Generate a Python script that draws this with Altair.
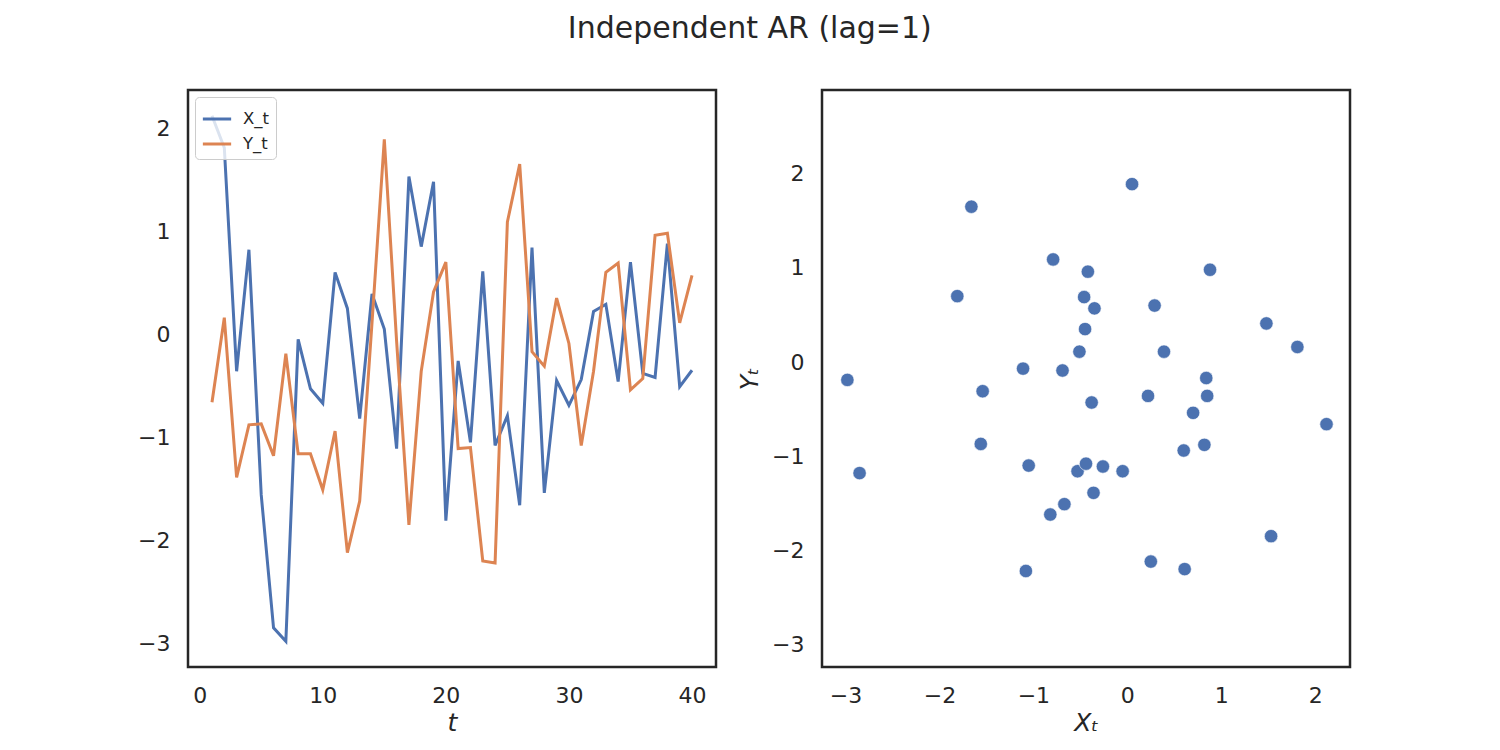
import altair as alt
import pandas as pd

# ---- data ----
t_vals = list(range(1, 41))
x_vals = [2.12, 1.81, -0.36, 0.82, -1.56, -2.85, -2.98, -0.05, -0.53, -0.67,
          0.60, 0.25, -0.82, 0.39, 0.05, -1.11, 1.53, 0.85, 1.48, -1.81,
          -0.26, -1.05, 0.61, -1.08, -0.79, -1.66, 0.84, -1.54, -0.45, -0.69,
          -0.44, 0.22, 0.29, -0.46, 0.70, -0.38, -0.42, 0.88, -0.51, -0.35]
y_vals = [-0.66, 0.16, -1.39, -0.88, -0.87, -1.18, -0.19, -1.16, -1.16, -1.51,
          -0.94, -2.12, -1.62, 0.11, 1.89, -0.07, -1.85, -0.36, 0.41, 0.70,
          -1.11, -1.10, -2.20, -2.22, 1.09, 1.65, -0.17, -0.31, 0.35, -0.09,
          -1.08, -0.36, 0.60, 0.69, -0.54, -0.43, 0.96, 0.98, 0.11, 0.57]
series_names = ["X_t", "Y_t"]
series_colors = ["#4C72B0", "#DD8452"]
t_ticks = [0, 10, 20, 30, 40]
v_ticks = [-3, -2, -1, 0, 1, 2]
sx_ticks = [-3, -2, -1, 0, 1, 2]
sy_ticks = [-3, -2, -1, 0, 1, 2]

FONT = "DejaVu Sans"
INK = "#262626"

long_df = pd.DataFrame({
    "t": t_vals + t_vals,
    "value": x_vals + y_vals,
    "series": [series_names[0]] * len(t_vals) + [series_names[1]] * len(t_vals),
})
scatter_df = pd.DataFrame({"x": x_vals, "y": y_vals})

line = alt.Chart(long_df).mark_line(strokeWidth=3, clip=True).encode(
    x=alt.X("t:Q",
            scale=alt.Scale(domain=[-0.95, 41.95], nice=False, zero=False),
            axis=alt.Axis(values=t_ticks, title="t", titleFontStyle="italic")),
    y=alt.Y("value:Q",
            scale=alt.Scale(domain=[-3.23, 2.37], nice=False, zero=False),
            axis=alt.Axis(values=v_ticks, title=None)),
    color=alt.Color("series:N",
                    scale=alt.Scale(domain=series_names, range=series_colors),
                    legend=alt.Legend(title=None, orient="top-left", offset=7,
                                      padding=6, strokeColor="#cccccc",
                                      fillColor="rgba(255,255,255,0.8)",
                                      cornerRadius=4, symbolType="stroke",
                                      symbolStrokeWidth=3, symbolSize=800,
                                      labelFont=FONT, labelFontSize=16.5,
                                      labelColor=INK, labelOffset=10,
                                      rowPadding=0)),
    order="t:Q",
).properties(width=528, height=577)

scatter = alt.Chart(scatter_df).mark_circle(size=180, opacity=1,
                                            stroke="white", strokeWidth=0.6,
                                            color="#4C72B0").encode(
    x=alt.X("x:Q",
            scale=alt.Scale(domain=[-3.25, 2.37], nice=False, zero=False),
            axis=alt.Axis(values=sx_ticks, title="Xₜ", titleFontStyle="italic")),
    y=alt.Y("y:Q",
            scale=alt.Scale(domain=[-3.24, 2.89], nice=False, zero=False),
            axis=alt.Axis(values=sy_ticks, title="Yₜ", titleFontStyle="italic",
                          titlePadding=9)),
).properties(width=528, height=577)

chart = alt.hconcat(line, scatter, spacing=106, bounds="flush").properties(
    title=alt.TitleParams("Independent AR (lag=1)", font=FONT, fontSize=30,
                          fontWeight="normal", color=INK, anchor="middle",
                          offset=45, dx=6),
    padding={"left": 128, "top": 5, "right": 5, "bottom": 5},
).configure_view(stroke=INK, strokeWidth=2.5).configure_axis(
    grid=False, ticks=False, domain=False,
    labelFont=FONT, labelFontSize=22, labelColor=INK, labelPadding=18,
    titleFont=FONT, titleFontSize=25, titleColor=INK, titleFontWeight="normal",
    titlePadding=4,
)

chart.save("out.html", embed_options={"renderer": "svg", "actions": False})
